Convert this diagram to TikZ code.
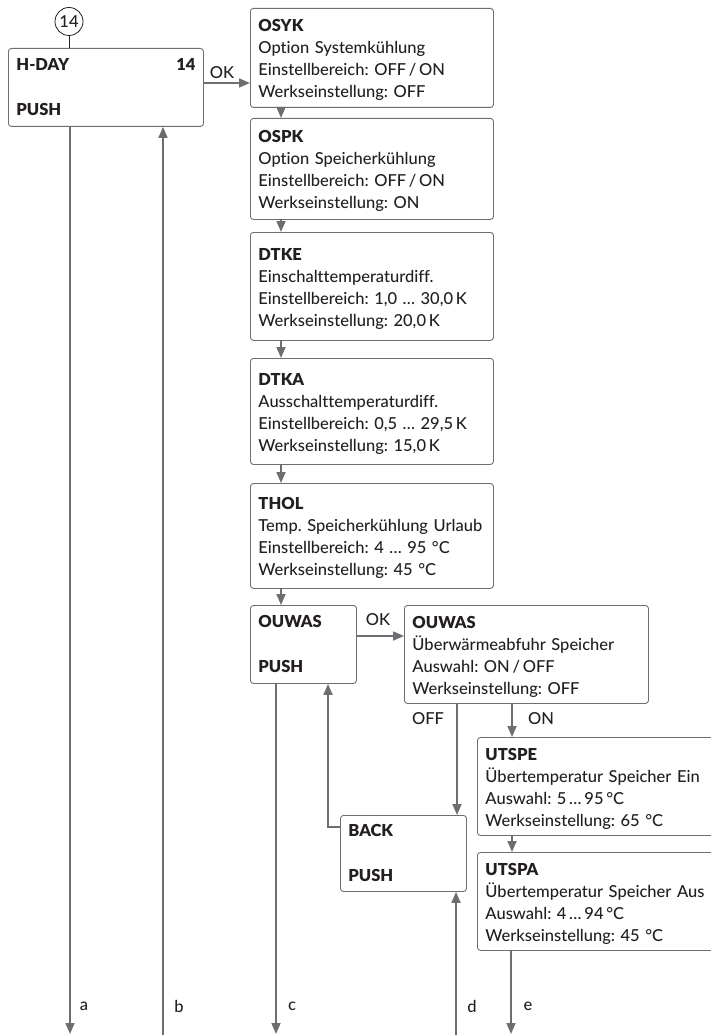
\documentclass[tikz,border=0pt]{standalone}
\usepackage{fontspec}
\setmainfont{Lato}[UprightFont={* Medium}, BoldFont={* Black}, Ligatures=NoCommon]
\frenchspacing
\usetikzlibrary{arrows.meta}
\definecolor{ln}{HTML}{6D6E71}
\definecolor{tx}{HTML}{231F20}
\newcommand{\tstrut}{\rule{0pt}{17pt}}
\begin{document}
\begin{tikzpicture}[x=1pt,y=-1pt,
  box/.style={draw=ln, line width=0.9pt, rounded corners=3pt, anchor=north west,
    inner xsep=8pt, inner ysep=0pt, align=left, text=tx,
    font=\fontsize{16.5}{22}\selectfont},
  conn/.style={draw=ln, line width=1.7pt, -{Triangle[length=11pt,width=9pt]}},
  lbl/.style={text=tx, font=\fontsize{16.5}{20}\selectfont, inner sep=0pt}]
\useasboundingbox (0,0) rectangle (711,1035);
\clip (0,0) rectangle (711,1035);

% circle and H-DAY
\node (c14) [circle, draw=tx, line width=0.8pt, minimum size=28pt, inner sep=0pt,
  text=tx, font=\fontsize{16.5}{20}\selectfont] at (69,21.5) {14};
\node (hday) [box, text width=179pt, minimum height=78pt] at (8,48)
  {\textbf{H-DAY}\hfill\textbf{14}\\[23pt]\textbf{PUSH}};
\draw[draw=tx, line width=0.8pt] (c14.south) -- (hday.north -| c14.south);

% right column
\node (osyk) [box, text width=227pt, minimum height=99pt] at (250,8)
  {\tstrut\textbf{OSYK}\\Option Systemkühlung\\Einstellbereich: OFF\,/\,ON\\Werkseinstellung: OFF};
\node (ospk) [box, text width=227pt, minimum height=101pt] at (250,118)
  {\tstrut\textbf{OSPK}\\Option Speicherkühlung\\Einstellbereich: OFF\,/\,ON\\Werkseinstellung: ON};
\node (dtke) [box, text width=227pt, minimum height=108pt] at (250,232)
  {\tstrut\textbf{DTKE}\\Einschalttemperaturdiff.\\Einstellbereich: 1,0 … 30,0\,K\\Werkseinstellung: 20,0\,K};
\node (dtka) [box, text width=227pt, minimum height=106pt] at (250,358)
  {\tstrut\textbf{DTKA}\\Ausschalttemperaturdiff.\\Einstellbereich: 0,5 … 29,5\,K\\Werkseinstellung: 15,0\,K};
\node (thol) [box, text width=227pt, minimum height=105pt] at (250,483)
  {\tstrut\textbf{THOL}\\Temp. Speicherkühlung Urlaub\\Einstellbereich: 4 … 95 °C\\Werkseinstellung: 45 °C};
\node (souwas) [box, text width=90pt, minimum height=78pt] at (250,605)
  {\textbf{OUWAS}\\[23pt]\textbf{PUSH}};
\node (bouwas) [box, text width=228pt, minimum height=98pt] at (404,605)
  {\tstrut\textbf{OUWAS}\\Überwärmeabfuhr Speicher\\Auswahl: ON\,/\,OFF\\Werkseinstellung: OFF};
\node (utspe) [box, text width=244pt, minimum height=98pt] at (477,737)
  {\tstrut\textbf{UTSPE}\\Übertemperatur Speicher Ein\\Auswahl: 5\,…\,95\,°C\\Werkseinstellung: 65 °C};
\node (utspa) [box, text width=244pt, minimum height=98pt] at (477,852)
  {\tstrut\textbf{UTSPA}\\Übertemperatur Speicher Aus\\Auswahl: 4\,…\,94\,°C\\Werkseinstellung: 45 °C};
\node (back) [box, text width=110pt, minimum height=76pt] at (340,815)
  {\textbf{BACK}\\[23pt]\textbf{PUSH}};

% labels
\node[lbl] (ok1) at (222,73) {OK};
\node[lbl] (ok2) at (378,620) {OK};
\node[lbl] (off) at (428,719) {OFF};
\node[lbl] (on) at (541,719) {ON};
\node[lbl] (la) at (84,1006) {a};
\node[lbl] (lb) at (179,1006) {b};
\node[lbl] (lc) at (292,1006) {c};
\node[lbl] (ld) at (472,1006) {d};
\node[lbl] (le) at (528,1006) {e};

% free ends
\coordinate (aend) at (70,1034);
\coordinate (bstart) at (163,1040);
\coordinate (cend) at (276,1034);
\coordinate (dstart) at (456,1040);
\coordinate (eend) at (511,1034);
\coordinate (bk) at (328,827);

% connectors
\draw[conn] (hday.east |- 0,83) -- (osyk.west |- 0,83);
\draw[conn] (osyk.south -| 281,0) -- (ospk.north -| 281,0);
\draw[conn] (ospk.south -| 281,0) -- (dtke.north -| 281,0);
\draw[conn] (dtke.south -| 281,0) -- (dtka.north -| 281,0);
\draw[conn] (dtka.south -| 281,0) -- (thol.north -| 281,0);
\draw[conn] (thol.south -| 281,0) -- (souwas.north -| 281,0);
\draw[conn] (souwas.east |- 0,636) -- (bouwas.west |- 0,636);
\draw[conn] (bouwas.south -| 457,0) -- (back.north -| 457,0);
\draw[conn] (bouwas.south -| 512,0) -- (utspe.north -| 512,0);
\draw[conn] (utspe.south -| 512,0) -- (utspa.north -| 512,0);
\draw[conn] (back.west |- bk) -- (bk) -- (souwas.south -| bk);
\draw[conn] (hday.south -| aend) -- (aend);
\draw[conn] (bstart) -- (hday.south -| bstart);
\draw[conn] (souwas.south -| cend) -- (cend);
\draw[conn] (dstart) -- (back.south -| dstart);
\draw[conn] (utspa.south -| eend) -- (eend);
\end{tikzpicture}
\end{document}
